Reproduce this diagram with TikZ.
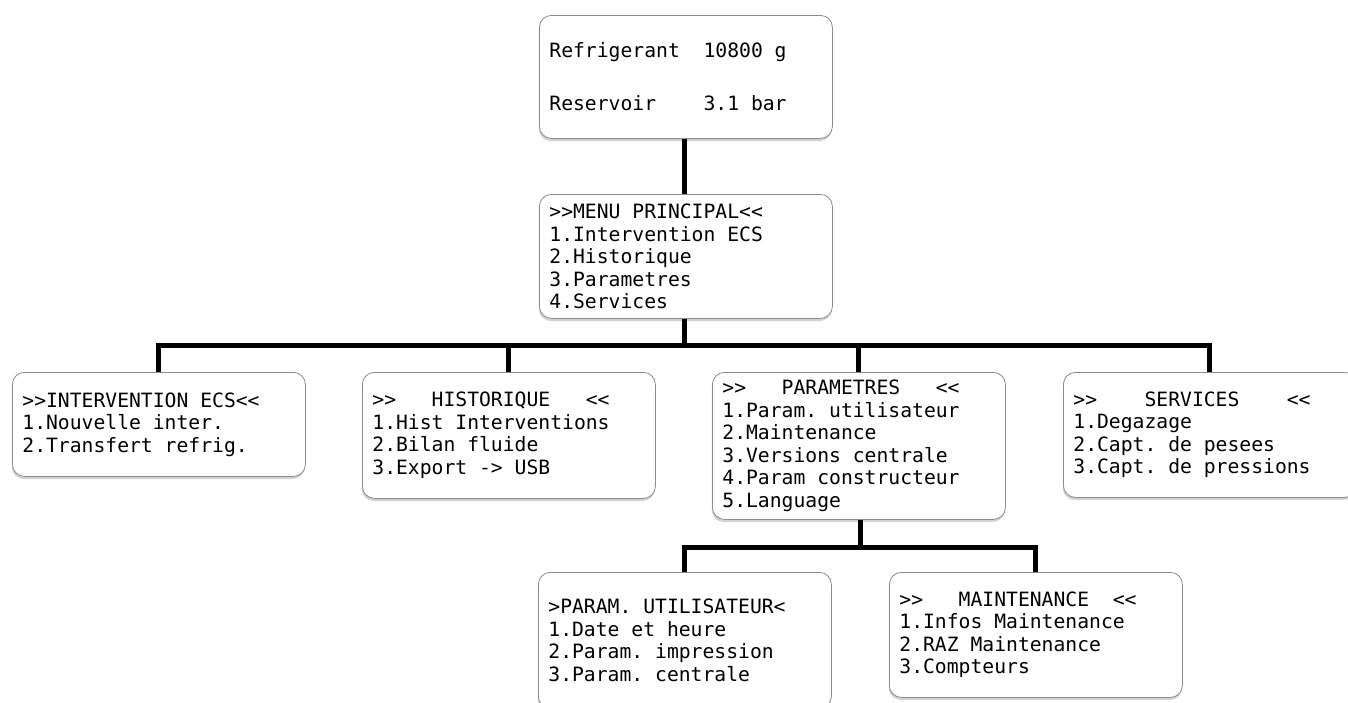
\documentclass[tikz,border=0pt]{standalone}
\usepackage{fontspec}
\usetikzlibrary{shadows}
\newfontfamily\lcdfont{DejaVu Sans Mono}
\newcommand\lcdsetup{\lcdfont\fontsize{19.7}{22.5}\selectfont\frenchspacing}
\newcommand\bl[1]{\hbox to \dimexpr#1\fontcharwd\font`0\relax{}}
\tikzset{
  menubox/.style={draw=black!45, line width=0.8pt, rounded corners=12pt, fill=white,
    anchor=north west, text width=273pt, inner xsep=10pt, inner ysep=0pt, align=left,
    font=\lcdsetup,
    drop shadow={shadow xshift=-0.6pt, shadow yshift=-2.6pt, opacity=0.35}},
  conn/.style={line width=5pt, black}
}
\begin{document}
\begin{tikzpicture}[x=1pt,y=-1pt]
\fill[white] (0,0) rectangle (1348,702);
\useasboundingbox (0,0) rectangle (1348,702);

\node[menubox, minimum height=123pt] (top) at (539,15)
  {Refrigerant\bl{2}10800\bl{1}g\\[30.5pt]Reservoir\bl{4}3.1\bl{1}bar};
\node[menubox, minimum height=124pt] (menu) at (539,194)
  {>{}>MENU\bl{1}PRINCIPAL<{}<\\1.Intervention\bl{1}ECS\\2.Historique\\3.Parametres\\4.Services};

\node[menubox, minimum height=104pt] (inter) at (12,372)
  {>{}>INTERVENTION\bl{1}ECS<{}<\\1.Nouvelle\bl{1}inter.\\2.Transfert\bl{1}refrig.};
\node[menubox, minimum height=126pt] (hist) at (362,372)
  {>{}>\bl{3}HISTORIQUE\bl{3}<{}<\\1.Hist\bl{1}Interventions\\2.Bilan\bl{1}fluide\\3.Export\bl{1}->\bl{1}USB};
\node[menubox, minimum height=147pt] (param) at (712,372)
  {>{}>\bl{3}PARAMETRES\bl{3}<{}<\\1.Param.\bl{1}utilisateur\\2.Maintenance\\3.Versions\bl{1}centrale\\4.Param\bl{1}constructeur\\5.Language};
\node[menubox, minimum height=125pt] (serv) at (1063,372)
  {>{}>\bl{4}SERVICES\bl{4}<{}<\\1.Degazage\\2.Capt.\bl{1}de\bl{1}pesees\\3.Capt.\bl{1}de\bl{1}pressions};

\node[menubox, minimum height=136pt] (util) at (538,572)
  {>PARAM.\bl{1}UTILISATEUR<\\1.Date\bl{1}et\bl{1}heure\\2.Param.\bl{1}impression\\3.Param.\bl{1}centrale};
\node[menubox, minimum height=125pt] (maint) at (889,572)
  {>{}>\bl{3}MAINTENANCE\bl{2}<{}<\\1.Infos\bl{1}Maintenance\\2.RAZ\bl{1}Maintenance\\3.Compteurs};

\coordinate (bus1) at (684,345);
\coordinate (bus2) at (860,547);

\draw[conn] (top.south -| bus1) -- (menu.north -| bus1);
\draw[conn] (menu.south -| bus1) -- (bus1);
\draw[conn] (inter.north) |- (bus1);
\draw[conn] (serv.north) |- (bus1);
\draw[conn] (hist.north) -- (hist.north |- bus1);
\draw[conn] (param.north) -- (param.north |- bus1);
\draw[conn] (param.south -| bus2) -- (bus2);
\draw[conn] (util.north) |- (bus2);
\draw[conn] (maint.north) |- (bus2);
\end{tikzpicture}
\end{document}
